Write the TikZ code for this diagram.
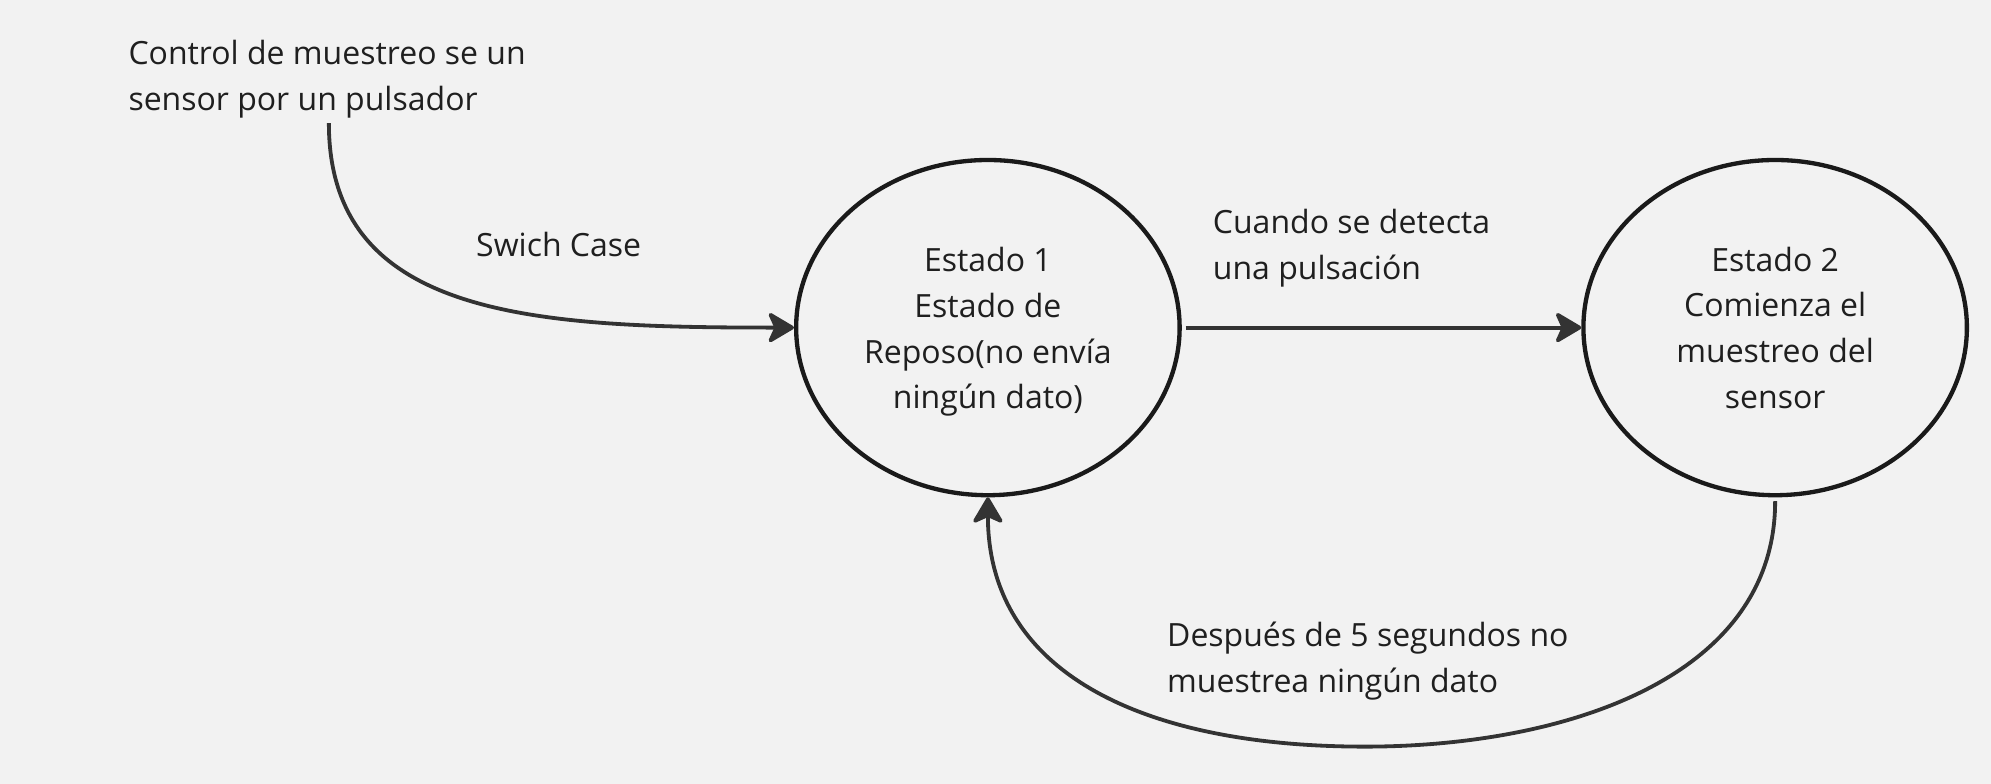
\documentclass[tikz,border=0pt]{standalone}
\usepackage{fontspec}
\setmainfont{Open Sans}
\usetikzlibrary{shapes.geometric,arrows.meta}
\definecolor{bgc}{HTML}{F2F2F2}
\definecolor{edgec}{HTML}{1A1A1A}
\definecolor{linkc}{HTML}{333333}
\definecolor{txtc}{HTML}{1F1F1F}
\tikzset{
  statebox/.style={ellipse,draw=edgec,line width=3.4pt,minimum width=302pt,minimum height=264pt,inner sep=0pt,align=center,text=txtc,font=\fontsize{25.2}{36}\selectfont},
  labeltext/.style={inner sep=0pt,align=left,text=txtc,font=\fontsize{25.2}{36}\selectfont},
  link/.style={draw=linkc,line width=3pt,-{Stealth[length=23pt,width=27pt,inset=6pt,round]}}
}
\begin{document}
\begin{tikzpicture}[x=1pt,y=1pt]
\useasboundingbox[fill=bgc] (0,0) rectangle (1568,-617.4);
\node[statebox] (e1) at (778,-258) {\rule{0pt}{26pt}Estado 1\\Estado de\\Reposo(no envía\\ningún dato)};
\node[statebox] (e2) at (1398,-258) {Estado 2\\Comienza el\\muestreo del\\sensor};
\node[labeltext,anchor=base west] (ctl) at (101,-87) {Control de muestreo se un\\sensor por un pulsador};
\node[labeltext,anchor=base] (sw) at (440,-202) {Swich Case};
\node[labeltext,anchor=base west] (cu) at (955,-220) {Cuando se detecta\\una pulsación};
\node[labeltext,anchor=base west] (de) at (919,-545) {Después de 5 segundos no\\muestrea ningún dato};
\coordinate (s) at (259,-97);
\draw[link] (s) .. controls (259,-250) and (420,-258) .. (e1.west);
\draw[link,shorten <=3pt] (e1.east) -- (e2.west);
\coordinate (b) at (1075,-588);
\draw[link,shorten <=3pt] (e2.south) .. controls (1398,-535) and (1230,-588) .. (b) .. controls (900,-588) and (778,-530) .. (e1.south);
\end{tikzpicture}
\end{document}
